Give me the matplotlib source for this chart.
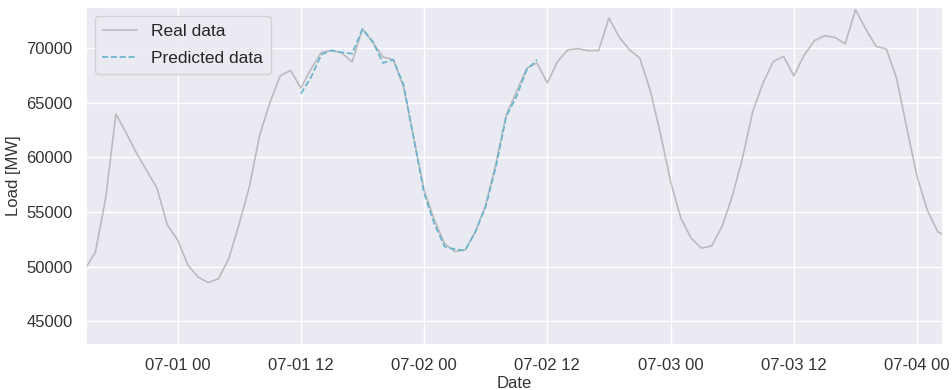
import pandas as pd
import matplotlib
matplotlib.use("Agg")
import matplotlib.pyplot as plt
import matplotlib.dates as mdates
import seaborn as sns

# hourly load, 2019-06-30 15:00 .. 2019-07-04 03:00
real_start = "2019-06-30 15:00"
real_load = [
    49800, 51320, 56260, 63960, 62220, 60390, 58790, 57180, 53820,
    52450, 50160, 49030, 48540, 48900, 50770, 53910, 57330, 62060, 65020, 67460, 67950,
    66340, 68080, 69600, 69780, 69540, 68720, 71740, 70510, 69180, 68930, 66430, 61760,
    57020, 54280, 52100, 51370, 51530, 53200, 55650, 59470, 63890, 66030, 68170, 68630,
    66800, 68770, 69840, 69940, 69750, 69780, 72750, 70990, 69840, 69080, 66180, 62220,
    57780, 54430, 52600, 51690, 51900, 53660, 56410, 59930, 64190, 66800, 68770, 69230,
    67460, 69340, 70670, 71130, 70970, 70390, 73510, 71740, 70150, 69910, 67250, 62670,
    58240, 55150, 53200, 52660,
]

# 24h forecast window
pred_start = "2019-07-01 12:00"
pred_load = [
    65820, 67340, 69390, 69780, 69600, 69480, 71740, 70600, 68630, 68930, 66640, 61700,
    56720, 53910, 51830, 51590, 51470, 53200, 55490, 59160, 63740, 65570, 68010, 68930,
]

real = pd.Series(real_load, index=pd.date_range(real_start, periods=len(real_load), freq="h"))
pred = pd.Series(pred_load, index=pd.date_range(pred_start, periods=len(pred_load), freq="h"))

sns.set_theme(style="darkgrid")
plt.rcParams["font.family"] = ["Liberation Sans", "DejaVu Sans"]

fig, ax = plt.subplots(figsize=(9.52, 3.9), dpi=100)
fig.subplots_adjust(left=0.0903, right=0.9905, top=0.982, bottom=0.1154)

ax.plot(real.index, real.values, color="#8c8c8c", alpha=0.5, lw=1.2, label="Real data")
ax.plot(pred.index, pred.values, color="#64B5CD", lw=1.2, ls="--", label="Predicted data")

ax.set_xlim(pd.Timestamp("2019-06-30 15:05"), pd.Timestamp("2019-07-04 02:31"))
ax.set_ylim(42830, 73750)
ax.xaxis.set_major_locator(mdates.HourLocator(byhour=[0, 12]))
ax.xaxis.set_major_formatter(mdates.DateFormatter("%m-%d %H"))
ax.tick_params(labelsize=12, colors="#333333")

ax.set_xlabel("Date", fontsize=12, labelpad=2, color="#333333")
ax.set_ylabel("Load [MW]", fontsize=12, color="#333333")
ax.legend(loc="upper left", fontsize=12.5, labelspacing=0.7, borderpad=0.45)

fig.savefig("out.png", dpi=100)
